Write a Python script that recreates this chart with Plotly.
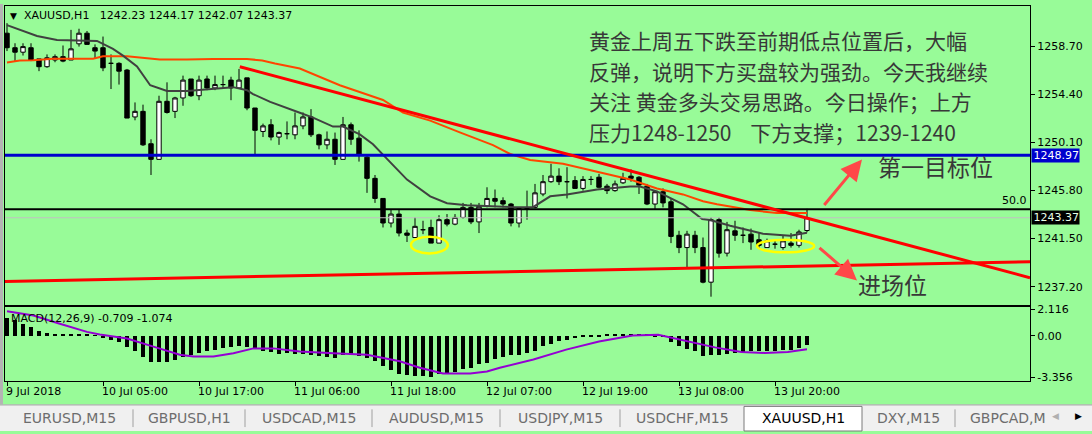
import plotly.graph_objects as go

W, H = 1092, 434

# ---------------- data ----------------
bar_open = [1259.9, 1258.6, 1258.2, 1258.6, 1257.6, 1256.9, 1257.5, 1257.8, 1257.5, 1258.95,
            1259.9, 1258.6, 1258.6, 1257.2, 1257.2, 1256.6, 1252.4, 1252.9, 1250.0, 1248.6,
            1253.8, 1252.9, 1254.1, 1255.8, 1254.3, 1255.8, 1255.0, 1255.3, 1255.7, 1255.0,
            1255.9, 1253.2, 1251.1, 1251.7, 1250.6, 1250.9, 1250.8, 1251.6, 1252.4, 1250.8,
            1249.9, 1250.4, 1248.6, 1251.7, 1250.5, 1248.8, 1246.9, 1245.1, 1242.9, 1243.7,
            1242.0, 1241.6, 1242.3, 1242.5, 1241.1, 1243.2, 1242.8, 1243.4, 1244.3, 1243.0,
            1244.4, 1245.1, 1244.9, 1244.6, 1242.9, 1244.2, 1244.3, 1245.5, 1246.6, 1247.1,
            1246.6, 1246.7, 1246.0, 1246.8, 1247.0, 1246.2, 1245.8, 1246.5, 1247.1, 1247.0,
            1246.2, 1244.6, 1245.7, 1244.8, 1241.8, 1240.7, 1241.8, 1240.7, 1237.6, 1243.2,
            1240.2, 1242.2, 1241.8, 1241.9, 1241.4, 1240.7, 1241.0, 1240.7, 1241.1, 1240.9,
            1242.23]
bar_high = [1260.8, 1259.0, 1259.0, 1259.0, 1257.6, 1258.0, 1258.0, 1258.8, 1260.2, 1260.3,
            1260.1, 1258.9, 1259.6, 1258.0, 1257.3, 1256.7, 1253.7, 1253.5, 1250.4, 1254.3,
            1255.5, 1254.2, 1256.1, 1255.8, 1256.1, 1256.1, 1256.1, 1256.1, 1256.0, 1256.7,
            1255.9, 1253.2, 1251.8, 1252.2, 1251.1, 1252.0, 1252.8, 1252.8, 1253.1, 1250.9,
            1251.1, 1251.0, 1252.4, 1251.9, 1251.2, 1249.0, 1247.2, 1245.1, 1244.1, 1244.1,
            1242.3, 1243.4, 1243.1, 1243.2, 1243.6, 1243.7, 1243.7, 1244.7, 1244.7, 1244.7,
            1246.1, 1245.9, 1245.2, 1244.7, 1244.3, 1245.8, 1246.4, 1247.2, 1248.2, 1247.8,
            1247.9, 1247.1, 1247.1, 1247.1, 1247.3, 1246.4, 1246.7, 1247.4, 1247.7, 1247.1,
            1246.4, 1245.8, 1246.0, 1245.1, 1242.2, 1242.2, 1242.2, 1241.6, 1243.4, 1243.4,
            1243.0, 1243.1, 1242.5, 1242.4, 1242.0, 1241.5, 1241.4, 1241.8, 1242.0, 1242.3,
            1244.17]
bar_low = [1258.3, 1257.4, 1257.9, 1257.4, 1256.5, 1256.8, 1257.3, 1257.3, 1257.5, 1258.7,
           1258.9, 1257.6, 1256.5, 1254.9, 1255.3, 1252.3, 1252.1, 1249.8, 1247.2, 1248.6,
           1252.7, 1252.3, 1253.4, 1254.2, 1253.9, 1254.8, 1254.8, 1255.0, 1253.9, 1255.0,
           1253.0, 1249.0, 1250.6, 1250.3, 1249.9, 1250.4, 1250.4, 1251.3, 1250.6, 1249.5,
           1249.5, 1248.1, 1248.6, 1249.9, 1248.4, 1245.6, 1244.7, 1242.5, 1242.5, 1241.7,
           1241.2, 1241.6, 1241.9, 1241.1, 1241.1, 1242.6, 1242.7, 1243.3, 1242.8, 1242.0,
           1244.3, 1244.3, 1244.3, 1242.6, 1242.5, 1243.2, 1244.2, 1245.3, 1246.5, 1246.3,
           1245.1, 1246.0, 1245.8, 1246.3, 1246.0, 1245.5, 1245.7, 1246.4, 1246.6, 1245.5,
           1244.5, 1244.1, 1244.3, 1241.1, 1240.2, 1238.9, 1240.2, 1237.5, 1236.3, 1239.8,
           1239.9, 1241.3, 1241.1, 1240.5, 1240.6, 1240.7, 1240.6, 1240.5, 1240.7, 1240.7,
           1242.07]
bar_close = [1258.6, 1258.2, 1258.7, 1257.5, 1256.9, 1257.7, 1257.8, 1257.4, 1258.5, 1259.9,
             1258.9, 1258.3, 1256.8, 1257.2, 1256.5, 1252.3, 1252.9, 1249.9, 1248.6, 1253.8,
             1252.8, 1254.1, 1255.7, 1254.3, 1255.7, 1255.0, 1255.3, 1255.3, 1255.0, 1255.7,
             1253.2, 1251.2, 1251.6, 1250.6, 1251.0, 1250.9, 1251.6, 1252.4, 1250.8, 1249.9,
             1250.4, 1248.6, 1251.7, 1250.4, 1249.0, 1246.9, 1245.1, 1242.9, 1243.7, 1242.0,
             1241.8, 1242.6, 1242.3, 1241.1, 1243.2, 1242.8, 1243.4, 1244.3, 1243.0, 1244.4,
             1245.1, 1244.85, 1244.6, 1242.9, 1244.2, 1244.2, 1245.6, 1246.6, 1247.1, 1246.6,
             1246.6, 1246.0, 1246.8, 1246.8, 1246.1, 1245.8, 1246.4, 1246.9, 1246.9, 1246.3,
             1244.6, 1245.7, 1244.7, 1241.7, 1240.7, 1241.9, 1240.7, 1237.6, 1243.2, 1240.2,
             1242.3, 1241.8, 1241.8, 1241.2, 1240.9, 1241.3, 1241.0, 1241.3, 1240.9, 1242.1,
             1243.37]
bar_idx = list(range(len(bar_open)))

# gray (fast) moving average, sampled along the drawn line
ma_fast_idx = [0, 3.75, 6.25, 10, 11.25, 13.25, 14.5, 16.25, 17.9, 20, 22.5, 28.25, 30, 30.75,
               32.9, 36.6, 38.25, 40.75, 42, 44.1, 45.75, 47.5, 50, 52.9, 55, 57.5, 60.75, 63.25,
               65.75, 67.9, 70, 73.75, 77.9, 79.1, 81.25, 82.9, 84.5, 86.9, 87.9, 90.4, 92.9,
               94.5, 97.9, 100]
ma_fast_val = [1260.62, 1259.65, 1259.30, 1259.21, 1259.21, 1258.50, 1257.89, 1256.92, 1255.24,
               1254.72, 1254.72, 1255.07, 1254.80, 1254.45, 1253.75, 1252.78, 1252.34, 1251.54,
               1251.54, 1250.84, 1249.96, 1248.64, 1246.79, 1245.29, 1244.67, 1244.50, 1244.41,
               1244.32, 1244.32, 1245.29, 1245.46, 1245.91, 1246.17, 1246.17, 1245.73, 1245.11,
               1244.58, 1243.26, 1243.17, 1242.65, 1242.20, 1241.94, 1241.76, 1242.03]

# orange (slow) moving average
ma_slow_idx = [0, 1.6, 3.25, 5.75, 10.75, 12, 15, 16.6, 19.1, 22.5, 25.75, 30, 31.9, 33.5, 36.6,
               41.6, 47, 49.5, 52.9, 56.6, 60.75, 62.9, 65.4, 69.5, 73.75, 77.9, 81.25, 84.5, 87,
               88.75, 92.9, 96.25, 100]
ma_slow_val = [1257.27, 1257.45, 1257.47, 1257.62, 1257.62, 1257.83, 1257.83, 1257.71, 1257.54,
               1257.54, 1257.60, 1257.60, 1257.45, 1257.18, 1256.74, 1255.24, 1253.92, 1252.78,
               1252.07, 1251.02, 1249.87, 1249.08, 1248.55, 1248.20, 1247.49, 1246.79, 1245.99,
               1245.46, 1244.85, 1244.58, 1244.06, 1243.79, 1243.79]

# drawn trend lines (bar index, price)
resist_idx = [29.1, 127.875]
resist_val = [1256.9, 1238.0]
support_idx = [-0.25, 127.875]
support_val = [1237.67, 1239.43]

# horizontal levels
target_level = 1248.97
fibo_level = 1244.14
bid_level = 1243.37

# yellow ellipses (bar index range, price range)
ellipse_idx = [(50.5, 55.1), (93.75, 100.9)]
ellipse_val = [(1240.18, 1241.68), (1240.27, 1241.41)]

# MACD
macd_hist = [1.46, 1.24, 0.98, 0.71, 0.40, 0.24, 0.08, 0.08, 0.08, 0.08,
             0.08, 0.06, -0.21, -0.34, -0.48, -0.87, -1.22, -1.72, -2.14, -2.12,
             -2.12, -1.93, -1.67, -1.53, -1.40, -1.22, -1.14, -1.01, -0.87, -0.82,
             -0.87, -1.01, -1.19, -1.27, -1.48, -1.40, -1.48, -1.48, -1.53, -1.59,
             -1.67, -1.80, -1.53, -1.53, -1.59, -1.80, -2.06, -2.46, -2.72, -3.07,
             -3.15, -3.23, -3.28, -3.356, -3.10, -3.04, -2.88, -2.70, -2.57, -2.30,
             -2.17, -1.90, -1.72, -1.56, -1.51, -1.38, -1.19, -0.85, -0.63, -0.45,
             -0.37, -0.19, -0.11, -0.08, -0.08, 0.08, 0.11, 0.11, 0.11, 0.11,
             0.08, -0.08, -0.13, -0.53, -0.85, -1.03, -1.24, -1.64, -1.56, -1.51,
             -1.46, -1.38, -1.38, -1.24, -1.24, -1.19, -1.19, -1.11, -1.11, -0.98,
             -0.709]
signal_idx = [0, 3.3, 6.6, 10, 11.6, 15, 18.3, 21.6, 23.3, 25.8, 28.3, 30.8, 33.3, 36.6, 40.8,
              45, 49.1, 51.6, 54.5, 57.9, 60, 61.6, 65.8, 69.9, 74, 78.2, 81.4, 84.3, 88.5,
              91.8, 94.7, 97.6, 100]
signal_val = [1.98, 1.64, 0.98, 0.32, 0.11, -0.21, -0.87, -1.53, -1.67, -1.67, -1.40, -1.01,
              -1.01, -1.27, -1.40, -1.53, -2.05, -2.57, -3.04, -3.04, -2.88, -2.57, -1.90, -1.11,
              -0.45, 0.03, 0.08, -0.32, -0.93, -1.30, -1.38, -1.30, -1.074]

# axis labels
price_ticks = [1258.70, 1254.40, 1250.10, 1245.80, 1241.50, 1237.20]
macd_ticks = [2.116, 0.0, -3.356]
macd_tick_text = ["2.116", "0.00", "-3.356"]
date_tick_idx = [0, 12, 24, 36, 48, 60, 72, 84, 96]
date_tick_text = ["9 Jul 2018", "10 Jul 05:00", "10 Jul 17:00", "11 Jul 06:00", "11 Jul 18:00",
                  "12 Jul 07:00", "12 Jul 19:00", "13 Jul 08:00", "13 Jul 20:00"]

header_text = "XAUUSD,H1   1242.23 1244.17 1242.07 1243.37"
macd_label = "MACD(12,26,9) -0.709 -1.074"
comment_lines = ["黄金上周五下跌至前期低点位置后，大幅",
                 "反弹，说明下方买盘较为强劲。今天我继续",
                 "关注 黄金多头交易思路。今日操作；上方",
                 "压力1248-1250    下方支撑；1239-1240"]
target_label = "第一目标位"
entry_label = "进场位"
tab_names = ["EURUSD,M15", "GBPUSD,H1", "USDCAD,M15", "AUDUSD,M15", "USDJPY,M15",
             "USDCHF,M15", "XAUUSD,H1", "DXY,M15", "GBPCAD,M"]
active_tab = "XAUUSD,H1"

# ---------------- styling / layout helpers ----------------
BG = "#98FB98"
FONT = "DejaVu Sans"
CJK = "Noto Sans CJK SC"
TXT = "#383838"


def px(xp):
    return xp / W


def py(yp):
    return 1 - yp / H


X_RANGE = [-0.25, 127.875]
MAIN_TOP, MAIN_BOT = 2, 306
MACD_TOP, MACD_BOT = 308, 383
PLOT_L, PLOT_R = 5, 1030

fig = go.Figure()

fig.add_trace(go.Candlestick(
    x=bar_idx, open=bar_open, high=bar_high, low=bar_low, close=bar_close,
    xaxis="x2", yaxis="y2", whiskerwidth=0,
    increasing=dict(line=dict(color="black", width=1), fillcolor="white"),
    decreasing=dict(line=dict(color="black", width=1), fillcolor="black"),
    hoverinfo="skip"))

fig.add_trace(go.Scatter(x=ma_slow_idx, y=ma_slow_val, mode="lines", xaxis="x2", yaxis="y2",
                         line=dict(color="#FF4500", width=2)))
fig.add_trace(go.Scatter(x=ma_fast_idx, y=ma_fast_val, mode="lines", xaxis="x2", yaxis="y2",
                         line=dict(color="#404040", width=2)))

fig.add_trace(go.Scatter(x=X_RANGE, y=[bid_level, bid_level], mode="lines", xaxis="x2", yaxis="y2",
                         line=dict(color="#C0C0C0", width=1)))
fig.add_trace(go.Scatter(x=X_RANGE, y=[fibo_level, fibo_level], mode="lines", xaxis="x2", yaxis="y2",
                         line=dict(color="black", width=2)))
fig.add_trace(go.Scatter(x=X_RANGE, y=[target_level, target_level], mode="lines", xaxis="x2", yaxis="y2",
                         line=dict(color="#0000CD", width=3)))
fig.add_trace(go.Scatter(x=resist_idx, y=resist_val, mode="lines", xaxis="x2", yaxis="y2",
                         line=dict(color="#FF0000", width=3)))
fig.add_trace(go.Scatter(x=support_idx, y=support_val, mode="lines", xaxis="x2", yaxis="y2",
                         line=dict(color="#FF0000", width=3)))

fig.add_trace(go.Bar(x=bar_idx, y=macd_hist, xaxis="x", yaxis="y", width=0.6,
                     marker=dict(color="black", line=dict(width=0))))
fig.add_trace(go.Scatter(x=signal_idx, y=signal_val, mode="lines", xaxis="x", yaxis="y",
                         line=dict(color="#9400D3", width=2)))

shapes = []
for (x0, x1), (y0, y1) in zip(ellipse_idx, ellipse_val):
    shapes.append(dict(type="circle", xref="x2", yref="y2", x0=x0, x1=x1, y0=y0, y1=y1,
                       line=dict(color="#FFFF00", width=2.5)))

# left window border
shapes.append(dict(type="rect", xref="paper", yref="paper", x0=0, x1=px(3), y0=py(407), y1=1,
                   fillcolor="#B4B4B4", line=dict(width=0), layer="above"))
# tab bar
shapes.append(dict(type="rect", xref="paper", yref="paper", x0=0, x1=1, y0=0, y1=py(407),
                   fillcolor="#F0F0F0", line=dict(width=0), layer="above"))
shapes.append(dict(type="line", xref="paper", yref="paper", x0=0, x1=1, y0=py(407.5), y1=py(407.5),
                   line=dict(color="#A0A0A0", width=1), layer="above"))
tab_bounds = [5, 133, 245, 372, 500, 620, 744, 862, 955, 1062]
for xb in [133, 245, 372, 500, 620, 955]:
    shapes.append(dict(type="line", xref="paper", yref="paper", x0=px(xb), x1=px(xb),
                       y0=py(412), y1=py(430), line=dict(color="#A0A0A0", width=1), layer="above"))
ai = tab_names.index(active_tab)
shapes.append(dict(type="rect", xref="paper", yref="paper", x0=px(tab_bounds[ai]), x1=px(tab_bounds[ai + 1]),
                   y0=0, y1=py(409), fillcolor="white", line=dict(color="#7A7A7A", width=1), layer="above"))

annotations = []
# header
annotations.append(dict(xref="paper", yref="paper", x=px(13), y=py(12), text="▼", showarrow=False,
                        xanchor="center", yanchor="middle", font=dict(family=FONT, size=9, color="black")))
annotations.append(dict(xref="paper", yref="paper", x=px(22), y=py(12), text=header_text, showarrow=False,
                        xanchor="left", yanchor="middle", font=dict(family=FONT, size=11, color="black")))
annotations.append(dict(xref="paper", yref="paper", x=px(9), y=py(320), text=macd_label, showarrow=False,
                        xanchor="left", yanchor="middle", font=dict(family=FONT, size=11, color="black")))
annotations.append(dict(xref="paper", yref="y2", x=px(1029), y=fibo_level, text="50.0", showarrow=False,
                        xanchor="right", yanchor="bottom", yshift=0,
                        font=dict(family=FONT, size=11, color="black")))
# price boxes on the axis
annotations.append(dict(xref="paper", yref="y2", x=px(1031), y=target_level, text="1248.97", showarrow=False,
                        xanchor="left", yanchor="middle", bgcolor="#0000CD", width=47, align="right",
                        borderpad=0, font=dict(family=FONT, size=11, color="white")))
annotations.append(dict(xref="paper", yref="y2", x=px(1031), y=bid_level, text="1243.37", showarrow=False,
                        xanchor="left", yanchor="middle", bgcolor="black", width=47, align="right",
                        borderpad=0, font=dict(family=FONT, size=11, color="#E8FFE8")))
# comment text: four separate lines, sized so their boxes do not collide
for k, line in enumerate(comment_lines):
    annotations.append(dict(xref="paper", yref="paper", x=px(587), y=py(37 + 31 * k), text=line,
                            showarrow=False, xanchor="left", yanchor="middle", align="left",
                            font=dict(family=CJK, size=21, color=TXT)))
annotations.append(dict(xref="paper", yref="paper", x=px(876), y=py(165), text=target_label, showarrow=False,
                        xanchor="left", yanchor="middle", font=dict(family=CJK, size=23, color=TXT)))
annotations.append(dict(xref="paper", yref="paper", x=px(856), y=py(285), text=entry_label, showarrow=False,
                        xanchor="left", yanchor="middle", font=dict(family=CJK, size=23, color=TXT)))
# arrows
annotations.append(dict(xref="paper", yref="paper", x=px(862), y=py(158), ax=-39, ay=47, text="",
                        showarrow=True, arrowhead=2, arrowsize=1.4, arrowwidth=3, arrowcolor="#FF4848"))
annotations.append(dict(xref="paper", yref="paper", x=px(857), y=py(281), ax=-39, ay=-34, text="",
                        showarrow=True, arrowhead=2, arrowsize=1.4, arrowwidth=3, arrowcolor="#FF4848"))
# tabs
for k, name in enumerate(tab_names):
    if name == "GBPCAD,M":
        annotations.append(dict(xref="paper", yref="paper", x=px(968), y=py(421), text=name, showarrow=False,
                                xanchor="left", yanchor="middle",
                                font=dict(family=FONT, size=14, color="#6D6D6D")))
    else:
        cx = (tab_bounds[k] + tab_bounds[k + 1]) / 2
        annotations.append(dict(xref="paper", yref="paper", x=px(cx), y=py(421), text=name, showarrow=False,
                                xanchor="center", yanchor="middle",
                                font=dict(family=FONT, size=14,
                                          color="black" if name == active_tab else "#6D6D6D")))
annotations.append(dict(xref="paper", yref="paper", x=px(1055), y=py(419), text="◀", showarrow=False,
                        xanchor="center", yanchor="middle", font=dict(family=FONT, size=9, color="#B0B0B0")))
annotations.append(dict(xref="paper", yref="paper", x=px(1078), y=py(419), text="▶", showarrow=False,
                        xanchor="center", yanchor="middle", font=dict(family=FONT, size=9, color="black")))

axis_common = dict(showgrid=False, zeroline=False, showline=True, mirror=True, linecolor="black",
                   linewidth=1, fixedrange=True)

fig.update_layout(
    width=W, height=H, margin=dict(l=0, r=0, t=0, b=0),
    paper_bgcolor=BG, plot_bgcolor=BG, showlegend=False,
    font=dict(family=FONT, size=11, color="black"),
    boxgap=0.45, boxgroupgap=0, bargap=0,
    xaxis=dict(domain=[px(PLOT_L), px(PLOT_R)], range=X_RANGE, anchor="y",
               tickvals=date_tick_idx, ticktext=date_tick_text, ticks="outside", ticklen=4,
               tickcolor="black", ticklabelposition="outside right", ticklabelshift=-2,
               tickfont=dict(family=FONT, size=11, color="black"), **axis_common),
    xaxis2=dict(domain=[px(PLOT_L), px(PLOT_R)], range=X_RANGE, anchor="y2", matches="x",
                showticklabels=False, ticks="", rangeslider=dict(visible=False), **axis_common),
    yaxis=dict(domain=[py(MACD_BOT), py(MACD_TOP)], range=[-3.627, 2.325], anchor="x", side="right",
               tickvals=macd_ticks, ticktext=macd_tick_text, ticks="outside", ticklen=4,
               tickcolor="black", tickfont=dict(family=FONT, size=11, color="black"), **axis_common),
    yaxis2=dict(domain=[py(MAIN_BOT), py(MAIN_TOP)], range=[1235.55, 1262.34], anchor="x2", side="right",
                tickvals=price_ticks, ticktext=[f"{v:.2f}" for v in price_ticks], ticks="outside",
                ticklen=4, tickcolor="black", tickfont=dict(family=FONT, size=11, color="black"),
                **axis_common),
    shapes=shapes, annotations=annotations,
)

fig.write_html("out.html", config={"displayModeBar": False},
               post_script="document.body.style.margin='0';document.body.style.overflow='hidden';")
